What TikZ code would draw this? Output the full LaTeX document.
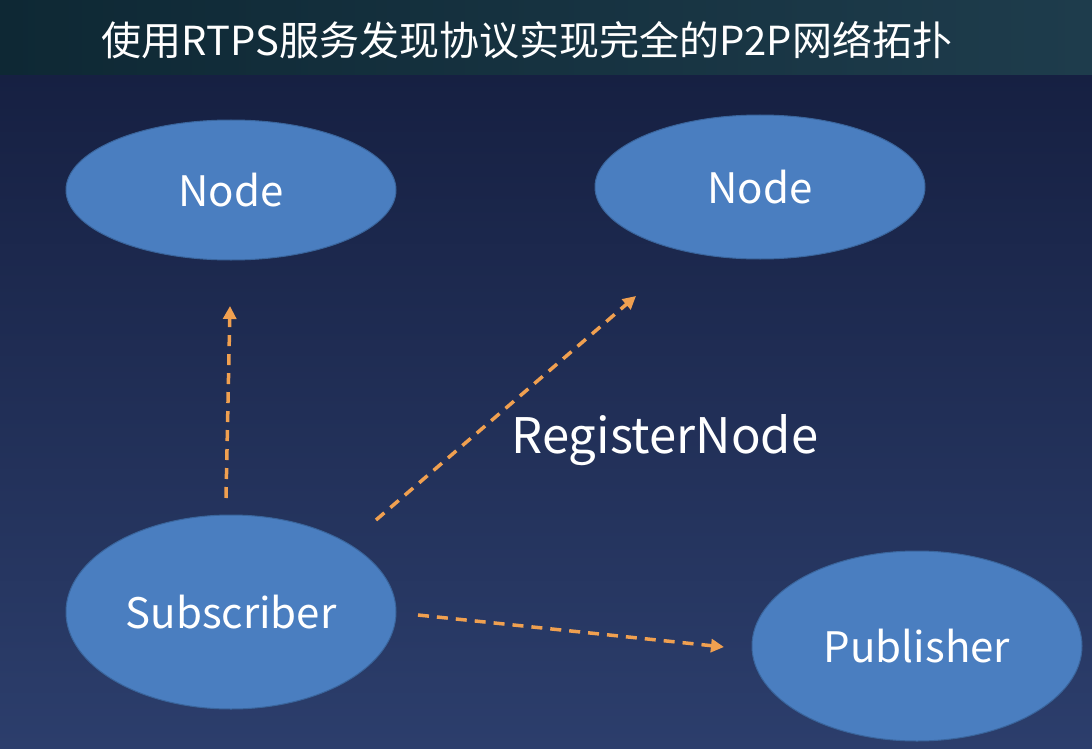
\documentclass[tikz,border=0pt]{standalone}
\usepackage{fontspec}
\setmainfont{Noto Sans CJK SC}
\usetikzlibrary{arrows.meta,shapes.geometric}
\definecolor{ellfill}{HTML}{4A7EC0}
\definecolor{elldraw}{HTML}{3A659C}
\definecolor{arr}{HTML}{F0A050}
\begin{document}
\begin{tikzpicture}[x=1pt,y=-1pt,
  ell/.style={ellipse,fill=ellfill,draw=elldraw,line width=1pt,text=white,font=\fontsize{42}{48}\selectfont},
  conn/.style={arr,line width=3.5pt,dash pattern=on 11pt off 8pt,-{Triangle[length=13pt,width=13pt]}}]
\useasboundingbox (0,0) rectangle (1092,749);
\shade[top color={rgb,255:red,22;green,32;blue,66},bottom color={rgb,255:red,44;green,62;blue,108}] (0,75) rectangle (1092,749);
\shade[left color={rgb,255:red,14;green,40;blue,52},right color={rgb,255:red,30;green,60;blue,76}] (0,0) rectangle (1092,75);
\node[text=white,font=\fontsize{40}{46}\selectfont] (title) at (527,40) {使用RTPS服务发现协议实现完全的P2P网络拓扑};
\node[ell,minimum width=330pt,minimum height=140pt] (n1) at (231,190) {Node};
\node[ell,minimum width=330pt,minimum height=144pt] (n2) at (760,187) {Node};
\node[ell,minimum width=330pt,minimum height=194pt] (sub) at (231,612) {Subscriber};
\node[ell,minimum width=330pt,minimum height=190pt] (pub) at (917,646) {Publisher};
\coordinate (a1s) at (226,498); \coordinate (a1e) at (230,306);
\coordinate (a2s) at (376,520); \coordinate (a2e) at (636,296);
\coordinate (a3s) at (418,615); \coordinate (a3e) at (724,647);
\draw[conn] (a1s) -- (a1e);
\draw[conn] (a2s) -- (a2e);
\draw[conn] (a3s) -- (a3e);
\node[text=white,font=\fontsize{49}{56}\selectfont] (lbl) at (665,440) {RegisterNode};
\end{tikzpicture}
\end{document}
